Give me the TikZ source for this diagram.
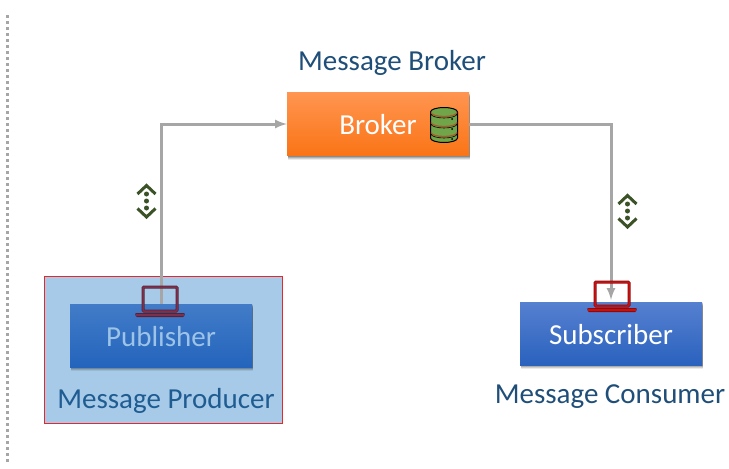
\documentclass[tikz,border=0pt]{standalone}
\usepackage{fontspec}
\setmainfont{Carlito}
\usetikzlibrary{arrows,positioning,shadows}
\definecolor{titleblue}{HTML}{1F4E79}
\definecolor{producerblue}{HTML}{1F5C92}
\definecolor{flowgray}{HTML}{A6A6A6}
\definecolor{chevgreen}{HTML}{3A5226}
\definecolor{framered}{HTML}{E82828}
\definecolor{framefill}{HTML}{A7CAE8}
\definecolor{pubtext}{HTML}{9DC3E6}
\definecolor{pubcase}{HTML}{7D304C}
\definecolor{subcase}{HTML}{C81010}
\definecolor{dbgreen}{HTML}{70A54A}
\definecolor{dbbrown}{HTML}{AA5A28}
\definecolor{brokertop}{HTML}{FF9550}
\definecolor{brokerbot}{HTML}{FA7416}
\definecolor{pubtop}{HTML}{427CC8}
\definecolor{pubbot}{HTML}{2464BC}
\definecolor{subtop}{HTML}{5680D0}
\definecolor{subbot}{HTML}{2A62BE}
\tikzset{
  softshadow/.style={
    drop shadow={shadow xshift=1pt,shadow yshift=-4pt,opacity=.08,fill=black},
    drop shadow={shadow xshift=1pt,shadow yshift=-3pt,opacity=.12,fill=black},
    drop shadow={shadow xshift=1pt,shadow yshift=-2pt,opacity=.16,fill=black},
    drop shadow={shadow xshift=1pt,shadow yshift=-1pt,opacity=.2,fill=black}},
  msgbox/.style={minimum width=182pt,minimum height=63pt,inner sep=0pt,softshadow},
  boxtext/.style={font=\fontsize{29}{32}\selectfont,text=white},
  msgtitle/.style={font=\fontsize{29}{32}\selectfont,text=titleblue},
  flowline/.style={draw=flowgray,line width=3pt,>=latex},
}
% laptop icon: #1 centre of the screen top, #2 colour
\newcommand{\laptopicon}[2]{
  \begin{scope}[shift={#1}]
    \draw[#2!70!black,line width=3pt,rounded corners=1pt] (-17,1) rectangle (17,25);
    \draw[#2,line width=1.5pt,rounded corners=1pt] (-17,1) rectangle (17,25);
    \fill[#2!70!black,rounded corners=1pt] (-25,27) -- (25,27) -- (24,31) -- (-24,31) -- cycle;
    \fill[#2] (-24,28) rectangle (24,30);
  \end{scope}
}
% up and down chevrons with three dots between
\newcommand{\chevicon}[1]{
  \begin{scope}[shift={#1}]
    \draw[chevgreen,line width=3pt] (-9,10) -- (0,1.5) -- (9,10);
    \draw[chevgreen,line width=3pt] (-9,24.5) -- (0,33) -- (9,24.5);
    \foreach \y in {10,17,24}{
      \fill[chevgreen] (0,\y) circle (2.5pt);
    }
  \end{scope}
}
\begin{document}
\begin{tikzpicture}[x=1pt,y=-1pt]
\useasboundingbox (0,0) rectangle (729,469);
%dotted separator
\foreach \y in {15,21,...,460}{
   \fill[flowgray] (6,\y) rectangle (9,\y+3);
}
%producer frame
\node (producer) [draw=framered,line width=1pt,fill=framefill,
  minimum width=238pt,minimum height=147pt,inner sep=0pt] at (163,350) {};
%boxes
\node (broker) [msgbox,top color=brokertop,bottom color=brokerbot] at (378,124) {};
\node (publisher) [msgbox,top color=pubtop,bottom color=pubbot] at (161,335.5) {};
\node (subscriber) [msgbox,top color=subtop,bottom color=subbot] at (611,333.5) {};
%connectors
\draw[flowline,->] (publisher.north) |- (broker.west);
\draw[flowline,->,shorten >=2pt] (broker.east) -| (subscriber.north);
%box texts
\node (brokertext) [boxtext] at (378,124.5) {Broker};
\node (publishertext) [boxtext,text=pubtext] at (161,336.5) {Publisher};
\node (subscribertext) [boxtext] at (611,334.5) {Subscriber};
%titles
\node (brokertitle) [msgtitle] at (392,63) {Message Broker};
\node (producertitle) [msgtitle,text=producerblue] at (166,401) {Message Producer};
\node (consumertitle) [msgtitle] at (610,397) {Message Consumer};
%database icon
\draw[black,fill=dbgreen,line width=1pt] (430.5,112) -- (430.5,138)
  arc[start angle=180,end angle=0,x radius=13.5,y radius=4.5] -- (457.5,112)
  arc[start angle=360,end angle=180,x radius=13.5,y radius=4.5] -- cycle;
\foreach \y in {112,122,132}{
   \draw[dbbrown,line width=1.2pt]
     (431,\y+.5) arc[start angle=180,end angle=0,x radius=13,y radius=4];
   \draw[black,line width=.6pt]
     (431,\y+2) arc[start angle=180,end angle=0,x radius=13,y radius=4];
   \fill[black] (452,\y+7) circle (1pt);
}
%laptops and chevrons
\laptopicon{(160,286)}{pubcase}
\laptopicon{(612,281)}{subcase}
\chevicon{(146.5,184)}
\chevicon{(627.5,194)}
\end{tikzpicture}
\end{document}
